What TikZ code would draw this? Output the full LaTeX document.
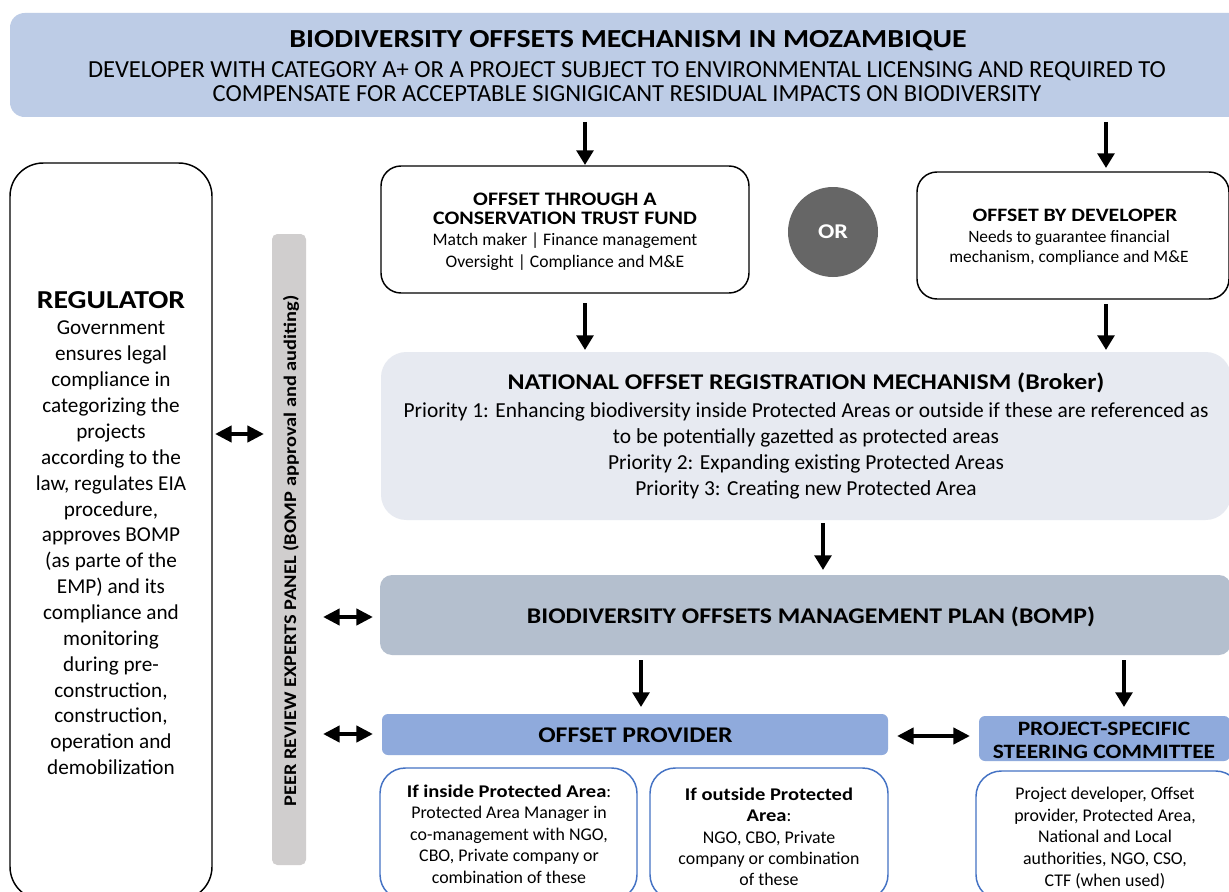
\documentclass[tikz,border=0pt]{standalone}
\usepackage{fontspec}
\setmainfont{Carlito}[BoldFeatures={FakeStretch=1.15}]
\usetikzlibrary{arrows.meta}
\definecolor{bannerfill}{RGB}{189,204,230}
\definecolor{orfill}{RGB}{102,102,102}
\definecolor{normfill}{RGB}{231,234,241}
\definecolor{bompfill}{RGB}{180,191,206}
\definecolor{barfill}{RGB}{143,170,220}
\definecolor{panelfill}{RGB}{208,206,206}
\definecolor{boxblue}{RGB}{68,114,196}
\newcommand\fs[2]{\fontsize{#1pt}{#2pt}\selectfont}
\begin{document}
\begin{tikzpicture}[x=0.75pt,y=-0.75pt,
  shapebox/.style={inner sep=0pt, outer sep=0pt},
  blackbox/.style={shapebox, draw=black, line width=1.1pt, fill=white},
  bluebox/.style={shapebox, draw=boxblue, line width=1.1pt, fill=white, rounded corners=19pt},
  txt/.style={inner sep=0pt, outer sep=0pt, align=center, text=black},
  arr/.style={line width=3.2pt, -{Triangle[width=12.5pt,length=11pt]}},
  darr/.style={line width=3.6pt, {Triangle[width=12pt,length=12.5pt]}-{Triangle[width=12pt,length=12.5pt]}},
]
\clip (0,0) rectangle (1229,892);
\fill[white] (0,0) rectangle (1229,892);

% ---------- banner ----------
\node[shapebox, fill=bannerfill, rounded corners=11pt, minimum width=1235*0.75pt, minimum height=104*0.75pt] (banner) at (627.5,65) {};
\node[txt, font=\bfseries\fs{19.5}{23}] (title) at (628,41) {BIODIVERSITY OFFSETS MECHANISM IN MOZAMBIQUE};
\node[txt, font=\fs{18.4}{18}] (sub) at (627,82) {DEVELOPER WITH CATEGORY A+ OR A PROJECT SUBJECT TO ENVIRONMENTAL LICENSING AND REQUIRED TO\\COMPENSATE FOR ACCEPTABLE SIGNIGICANT RESIDUAL IMPACTS ON BIODIVERSITY};

% ---------- regulator ----------
\node[blackbox, rounded corners=25pt, minimum width=202*0.75pt, minimum height=737*0.75pt] (reg) at (111,531.5) {};
\node[txt, font=\bfseries\fs{19.4}{22}] (regtitle) at (111,300) {REGULATOR};
\node[txt, font=\fs{15.9}{19.4}] (regtext) at (111,548) {Government\\ensures legal\\compliance in\\categorizing the\\projects\\according to the\\law, regulates EIA\\procedure,\\approves BOMP\\(as parte of the\\EMP) and its\\compliance and\\monitoring\\during pre-\\construction,\\construction,\\operation and\\demobilization};

% ---------- peer review panel ----------
\node[shapebox, fill=panelfill, rounded corners=4pt, minimum width=34*0.75pt, minimum height=631*0.75pt] (panel) at (289,549.5) {};
\node[txt, rotate=90, font=\bfseries\fs{13.3}{15}] (paneltext) at (291,551) {PEER REVIEW EXPERTS PANEL (BOMP approval and auditing)};

% ---------- CTF ----------
\node[blackbox, rounded corners=15pt, minimum width=368*0.75pt, minimum height=127*0.75pt] (ctf) at (565,229.5) {};
\node[txt, font=\bfseries\fs{14.3}{14.25}] (ctftitle) at (565,208.5) {OFFSET THROUGH A\\CONSERVATION TRUST FUND};
\node[txt, font=\fs{13.2}{16.5}] (ctftext) at (565,252) {Match maker | Finance management\\Oversight | Compliance and M\&E};

% ---------- OR ----------
\node[circle, fill=orfill, minimum size=90*0.75pt, inner sep=0pt, text=white, font=\bfseries\fs{15.75}{18}] (or) at (833,232) {OR};

% ---------- developer ----------
\node[blackbox, rounded corners=15pt, minimum width=312*0.75pt, minimum height=127*0.75pt] (dev) at (1073,235.5) {};
\node[txt, font=\bfseries\fs{14.2}{16}] (devtitle) at (1075,215) {OFFSET BY DEVELOPER};
\node[txt, font=\fs{13}{15}] (devtext) at (1069,248) {Needs to guarantee financial\\mechanism, compliance and M\&E};

% ---------- national registration mechanism ----------
\node[shapebox, fill=normfill, rounded corners=19pt, minimum width=850*0.75pt, minimum height=168*0.75pt] (norm) at (806,436) {};
\node[txt, font=\bfseries\fs{16.85}{18}] (normtitle) at (806,383) {NATIONAL OFFSET REGISTRATION MECHANISM (Broker)};
\node[txt, font=\fs{16.05}{19.5}] (normtext) at (806,451) {Priority 1: Enhancing biodiversity inside Protected Areas or outside if these are referenced as\\to be potentially gazetted as protected areas\\Priority 2: Expanding existing Protected Areas\\Priority 3: Creating new Protected Area};

% ---------- BOMP ----------
\node[shapebox, fill=bompfill, rounded corners=9pt, minimum width=851*0.75pt, minimum height=80*0.75pt] (bomp) at (805.5,615) {};
\node[txt, font=\bfseries\fs{16.8}{18}] (bomptext) at (811,617) {BIODIVERSITY OFFSETS MANAGEMENT PLAN (BOMP)};

% ---------- offset provider ----------
\node[shapebox, fill=barfill, rounded corners=4.5pt, minimum width=506*0.75pt, minimum height=41*0.75pt] (prov) at (635,734.5) {};
\node[txt, font=\bfseries\fs{16.8}{18}] (provtext) at (635.5,735) {OFFSET PROVIDER};

% ---------- steering committee ----------
\node[shapebox, fill=barfill, rounded corners=4.5pt, minimum width=251*0.75pt, minimum height=45*0.75pt] (sc) at (1104.5,738.5) {};
\node[txt, font=\bfseries\fs{15.3}{17.25}] (sctext) at (1104,740) {PROJECT-SPECIFIC\\STEERING COMMITTEE};

% ---------- bottom boxes ----------
\node[bluebox, minimum width=257*0.75pt, minimum height=132*0.75pt] (inpa) at (508.5,834) {};
\node[txt, font=\fs{13.4}{16.1}] (inpatext) at (509,834) {\textbf{If inside Protected Area}:\\Protected Area Manager in\\co-management with NGO,\\CBO, Private company or\\combination of these};

\node[bluebox, minimum width=238*0.75pt, minimum height=132*0.75pt] (outpa) at (769,834) {};
\node[txt, font=\fs{13.4}{16}] (outpatext) at (769,837) {\textbf{If outside Protected}\\\textbf{Area}:\\NGO, CBO, Private\\company or combination\\of these};

\node[bluebox, minimum width=265*0.75pt, minimum height=129*0.75pt] (scbody) at (1108.5,835.5) {};
\node[txt, font=\fs{13.4}{16.3}] (scbodytext) at (1105,838) {Project developer, Offset\\provider, Protected Area,\\National and Local\\authorities, NGO, CSO,\\CTF (when used)};

% ---------- connector positions ----------
\coordinate (xl) at (585,0);
\coordinate (xr) at (1106,0);
\coordinate (xm) at (823,0);
\coordinate (xp) at (641,0);
\coordinate (xs) at (1124,0);
\coordinate (y1) at (0,434);
\coordinate (y2) at (0,617);
\coordinate (y3) at (0,734);
\coordinate (y4) at (0,736);

% ---------- arrows ----------
\draw[arr, shorten <=3.75pt, shorten >=0.75pt] (banner.south -| xl) -- (ctf.north -| xl);
\draw[arr, shorten <=3.75pt, shorten >=3pt] (banner.south -| xr) -- (dev.north -| xr);
\draw[arr, shorten <=7.5pt, shorten >=1.5pt] (ctf.south -| xl) -- (norm.north -| xl);
\draw[arr, shorten <=3.75pt, shorten >=1.5pt] (dev.south -| xr) -- (norm.north -| xr);
\draw[arr, shorten <=2.25pt, shorten >=3.75pt] (norm.south -| xm) -- (bomp.north -| xm);
\draw[arr, shorten <=3.75pt, shorten >=5.25pt] (bomp.south -| xp) -- (prov.north -| xp);
\draw[arr, shorten <=3.75pt, shorten >=6.75pt] (bomp.south -| xs) -- (sc.north -| xs);

\draw[darr, shorten <=2.25pt, shorten >=6pt] (reg.east |- y1) -- (panel.west |- y1);
\draw[darr, shorten <=12.75pt, shorten >=5.25pt] (panel.east |- y2) -- (bomp.west |- y2);
\draw[darr, shorten <=12.75pt, shorten >=6.75pt] (panel.east |- y3) -- (prov.west |- y3);
\draw[darr, shorten <=6.75pt, shorten >=6.75pt] (prov.east |- y4) -- (sc.west |- y4);
\end{tikzpicture}
\end{document}
